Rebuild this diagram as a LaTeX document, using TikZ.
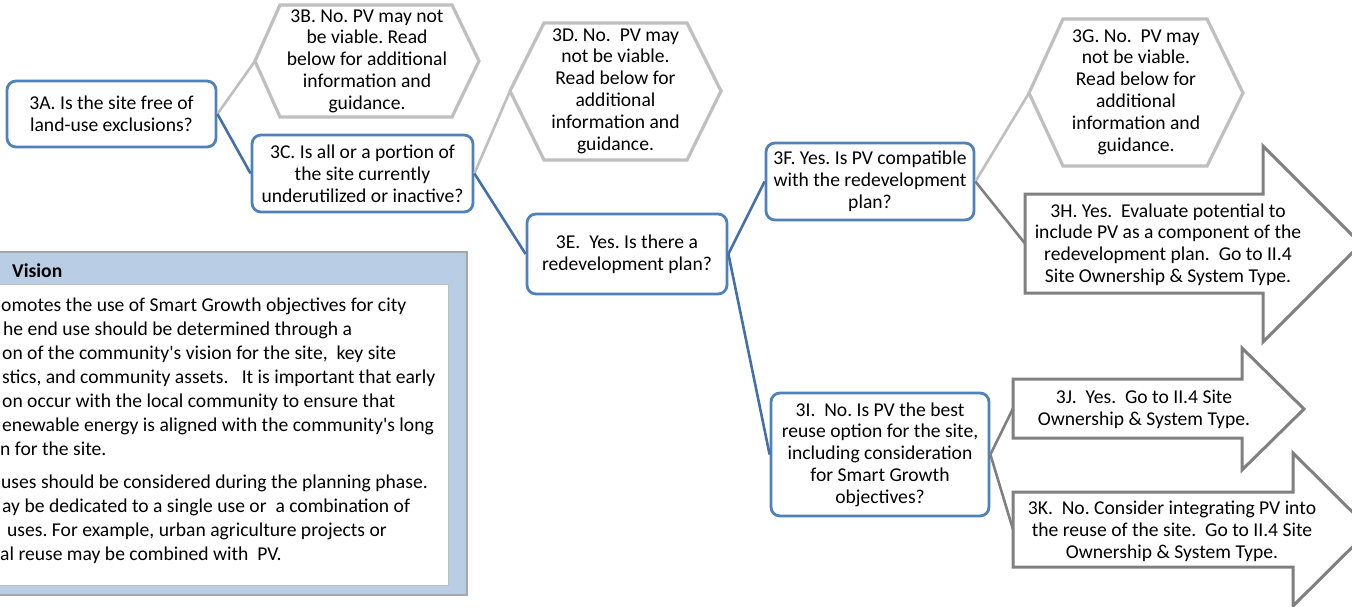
\documentclass[tikz,border=0pt]{standalone}
\usepackage{fontspec}
\setmainfont{Carlito}[Ligatures=TeXOff]
\definecolor{boxblue}{HTML}{4F81BD}
\definecolor{linkblue}{HTML}{4470A8}
\definecolor{hexgray}{HTML}{BFBFBF}
\definecolor{arrowgray}{HTML}{808080}
\definecolor{panelblue}{HTML}{B9CDE5}
\definecolor{panelrim}{HTML}{A6A6A6}
\begin{document}
\frenchspacing
\begin{tikzpicture}[x=1pt,y=-1pt,
  txt/.style={font=\fontsize{19.6}{21.8}\selectfont, align=center, inner sep=0pt, text=black},
  qbox/.style={txt, draw=boxblue, line width=2.8pt, rounded corners=9pt, fill=white},
  hexline/.style={draw=hexgray, line width=3.2pt, line join=miter, fill=white},
  arrline/.style={draw=arrowgray, line width=3pt, line join=miter, fill=white},
  yeslink/.style={draw=linkblue, line width=2.6pt},
  nolink/.style={draw=hexgray, line width=2.6pt},
  golink/.style={draw=arrowgray, line width=2.6pt},
  ptxt/.style={font=\fontsize{19.6}{24}\selectfont, anchor=base west, inner sep=0pt, text=black}
]
\useasboundingbox (0,0) rectangle (1352,607);
\clip (0,0) rectangle (1352,607);
\fill[white] (0,0) rectangle (1352,607);

% side panel with the vision notes
\draw[draw=panelrim, line width=1.5pt, fill=panelblue] (-30,252) rectangle (467,595);
\draw[draw=hexgray, line width=1pt, fill=white] (-30,284) rectangle (448,585);
\node[ptxt, font=\fontsize{19.6}{24}\selectfont\bfseries] (ptitle) at (12,277) {Vision};
\node[ptxt] (p1) at (1,311.5) {omotes the use of Smart Growth objectives for city};
\node[ptxt] (p2) at (3,335.4) {he end use should be determined through a};
\node[ptxt] (p3) at (2,359.3) {on of the community's vision for the site,\ \ key site};
\node[ptxt] (p4) at (2,383.2) {stics, and community assets.\ \ \ It is important that early};
\node[ptxt] (p5) at (2,407.1) {on occur with the local community to ensure that};
\node[ptxt] (p6) at (2,431) {enewable energy is aligned with the community's long};
\node[ptxt] (p7) at (0,455) {n for the site.};
\node[ptxt] (p8) at (1,488) {uses should be considered during the planning phase.};
\node[ptxt] (p9) at (2,512) {ay be dedicated to a single use or\ \ a combination of};
\node[ptxt] (p10) at (7,536) {uses. For example, urban agriculture projects or};
\node[ptxt] (p11) at (0,560) {al reuse may be combined with\ \ PV.};

% hexagons for the "not viable" outcomes
\draw[hexline] (255,61) -- (280,5) -- (452,5) -- (479,61) -- (452,117) -- (280,117) -- cycle;
\coordinate (bL) at (255,61);
\node[txt] (b) at (367,61) {3B. No. PV may not\\be viable. Read\\below for additional\\information and\\guidance.};

\draw[hexline] (510,91) -- (544,23) -- (687,23) -- (721,91) -- (687,160) -- (544,160) -- cycle;
\coordinate (dL) at (510,91);
\node[txt] (d) at (615.5,91) {3D. No.\ \ PV may\\not be viable.\\Read below for\\additional\\information and\\guidance.};

\draw[hexline] (1029,93) -- (1063,19) -- (1207,19) -- (1243,93) -- (1207,166) -- (1063,166) -- cycle;
\coordinate (gL) at (1029,93);
\node[txt] (g) at (1136,92) {3G. No.\ \ PV may\\not be viable.\\Read below for\\additional\\information and\\guidance.};

% block arrows for the "go on" outcomes
\draw[arrline] (1025,194) -- (1263,194) -- (1263,146) -- (1361,244) -- (1263,342) -- (1263,293) -- (1025,293) -- cycle;
\coordinate (hL) at (1025,243.5);
\node[txt] (h) at (1168,244.5) {3H. Yes.\ \ Evaluate potential to\\include PV as a component of the\\redevelopment plan.\ \ Go to II.4\\Site Ownership \& System Type.};

\draw[arrline] (1013,379) -- (1242,379) -- (1242,348) -- (1304,409) -- (1242,470) -- (1242,438) -- (1013,438) -- cycle;
\coordinate (jL) at (1013,408.5);
\node[txt] (j) at (1144,409) {3J.\ \ Yes.\ \ Go to II.4 Site\\Ownership \& System Type.};

\draw[arrline] (1013,492) -- (1293,492) -- (1293,453) -- (1370,529.5) -- (1293,606) -- (1293,567) -- (1013,567) -- cycle;
\coordinate (kL) at (1013,529.5);
\node[txt] (k) at (1172,531) {3K.\ \ No. Consider integrating PV into\\the reuse of the site.\ \ Go to II.4 Site\\Ownership \& System Type.};

% question boxes
\node[qbox, minimum width=209pt, minimum height=66pt] (a) at (111.5,114) {3A. Is the site free of\\land-use exclusions?};
\node[qbox, minimum width=221pt, minimum height=77pt] (c) at (362.5,173.5) {3C. Is all or a portion of\\the site currently\\underutilized or inactive?};
\node[qbox, minimum width=200pt, minimum height=80pt] (e) at (627,254) {3E.\ \ Yes. Is there a\\redevelopment plan?};
\node[qbox, minimum width=208pt, minimum height=77pt] (f) at (870,181.5) {3F. Yes. Is PV compatible\\with the redevelopment\\plan?};
\node[qbox, minimum width=218pt, minimum height=123pt] (i) at (880,454.5) {3I.\ \ No. Is PV the best\\reuse option for the site,\\including consideration\\for Smart Growth\\objectives?};

% connectors
\draw[nolink] (a.east) -- (bL);
\draw[yeslink] (a.east) -- (c.west);
\draw[nolink] (c.east) -- (dL);
\draw[yeslink] (c.east) -- (e.west);
\draw[yeslink] (e.east) -- (f.west);
\draw[yeslink] (e.east) -- (i.west);
\draw[nolink] (f.east) -- (gL);
\draw[golink] (f.east) -- (hL);
\draw[golink] (i.east) -- (jL);
\draw[golink] (i.east) -- (kL);
\end{tikzpicture}
\end{document}
